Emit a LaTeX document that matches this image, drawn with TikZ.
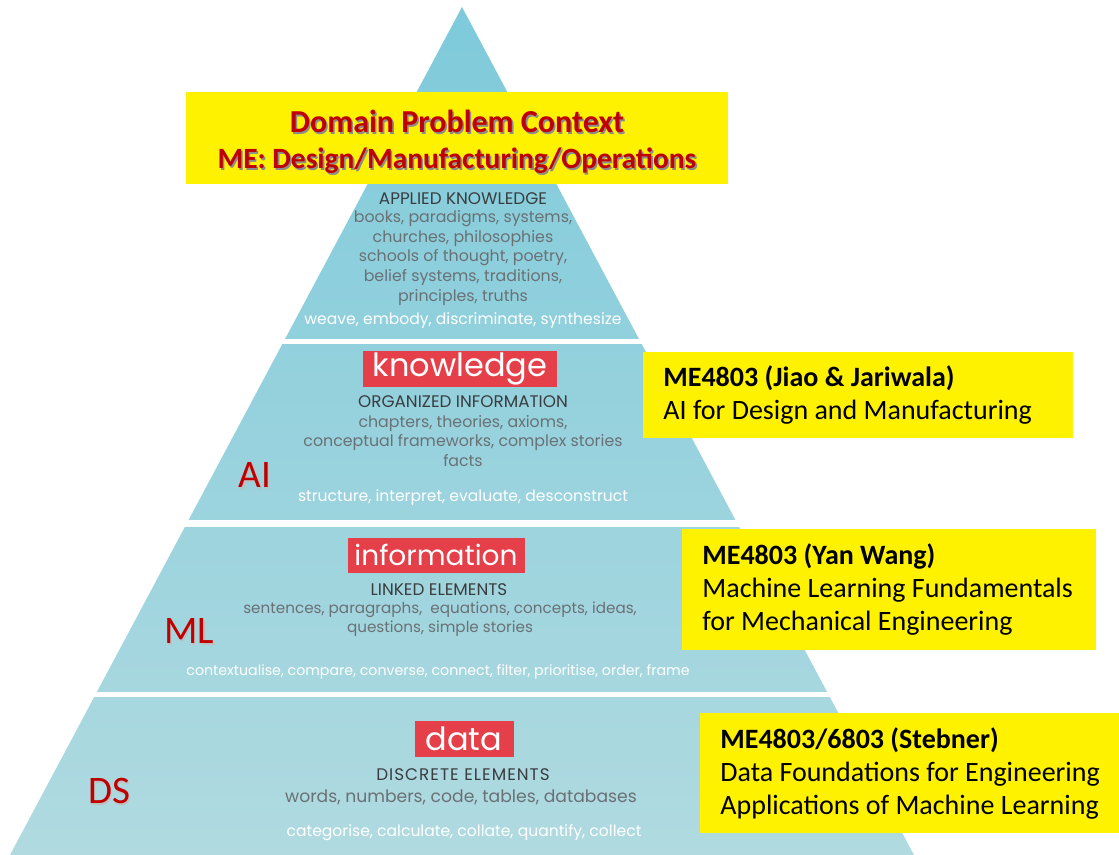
\documentclass[tikz,border=0pt]{standalone}
\usepackage{fontspec}
\setmainfont{Carlito}
\newfontfamily\geo{Poppins}

\definecolor{pyrtop}{HTML}{7ECADB}
\definecolor{pyrbot}{HTML}{B0DAE0}
\definecolor{tagred}{HTML}{E5404A}
\definecolor{dkred}{HTML}{C00000}
\definecolor{headgray}{HTML}{3A3D3F}
\definecolor{bodygray}{HTML}{6A7174}

% text with a soft drop shadow
\newcommand{\shadowed}[2][black!45]{\leavevmode\rlap{\kern0.8pt\raisebox{-0.8pt}{\color{#1}#2}}#2}

\begin{document}
\begin{tikzpicture}[x=0.5pt,y=-0.5pt,
    tag/.style={fill=tagred,text=white,font=\geo\fontsize{16}{16}\selectfont,inner sep=0pt},
    head/.style={text=headgray,font=\geo\fontsize{8.4}{9}\selectfont},
    body/.style={text=bodygray,align=center,font=\geo\fontsize{7.9}{9.9}\selectfont},
    verb/.style={text=white,font=\geo\fontsize{7.8}{9}\selectfont},
    level/.style={text=dkred,font=\fontsize{19.5}{20}\selectfont},
    course/.style={fill=yellow,anchor=north west,align=flush left,inner xsep=10pt,
      font=\fontsize{14}{16.5}\selectfont}]

\useasboundingbox (0,0) rectangle (1119,855);

% the pyramid, cut into four bands
\coordinate (apex) at (462,7);
\coordinate (bl) at (10,855);
\coordinate (br) at (914,855);
\shade[top color=pyrtop,bottom color=pyrbot] (apex) -- (br) -- (bl) -- cycle;
\foreach \ya/\yb in {339/344,520/527,692/697}
  \fill[white] (0,\ya) rectangle (1119,\yb);

% wisdom band
\node[head] (wishead) at (463,199) {APPLIED KNOWLEDGE};
\node[body] (wisbody) at (463,258) {books, paradigms, systems,\\churches, philosophies\\schools of thought, poetry,\\belief systems, traditions,\\principles, truths};
\node[verb] (wisverb) at (463,321) {weave, embody, discriminate, synthesize};

% knowledge band
\node[tag,minimum width=97pt,minimum height=18pt] (know) at (460,369) {knowledge};
\node[head] (knowhead) at (463,402) {ORGANIZED INFORMATION};
\node[body] (knowbody) at (463,441) {chapters, theories, axioms,\\conceptual frameworks, complex stories\\facts};
\node[verb] (knowverb) at (463,498) {structure, interpret, evaluate, desconstruct};

% information band
\node[tag,minimum width=88.5pt,minimum height=17.5pt,font=\geo\fontsize{14}{14}\selectfont] (info) at (436,555) {information};
\node[head] (infohead) at (439,590) {LINKED ELEMENTS};
\node[body,font=\geo\fontsize{7.6}{9.4}\selectfont] (infobody) at (440,619) {sentences, paragraphs,\ \ equations, concepts, ideas,\\questions, simple stories};
\node[verb,font=\geo\fontsize{7.1}{9}\selectfont] (infoverb) at (438,672) {contextualise, compare, converse, connect, filter, prioritise, order, frame};

% data band
\node[tag,minimum width=49.5pt,minimum height=18pt] (data) at (464,739) {data};
\node[head,font=\geo\fontsize{8.4}{9}\selectfont\addfontfeature{LetterSpace=6}] (datahead) at (463,775) {DISCRETE ELEMENTS};
\node[body,font=\geo\fontsize{8.6}{9.9}\selectfont] (databody) at (461,797) {words, numbers, code, tables, databases};
\node[verb] (dataverb) at (464,833) {categorise, calculate, collate, quantify, collect};

% levels on the left
\node[level] (ai) at (255,476) {\shadowed[black!25]{AI}};
\node[level] (ml) at (189,632) {\shadowed[black!25]{ML}};
\node[level] (ds) at (109,792) {\shadowed[black!25]{DS}};

% domain box over the top
\node[fill=yellow,minimum width=271pt,minimum height=46pt,align=flush center,text=dkred,
  font=\bfseries] (domain) at (457,138)
  {\fontsize{16}{18}\selectfont\rule{0pt}{16pt}\shadowed{Domain Problem Context}\\[6pt]
   \fontsize{14.7}{18}\selectfont\shadowed{ME: Design/Manufacturing/Operations}};

% courses
\node[course,text width=195pt,minimum height=43pt] (ai course) at (643,352)
  {\textbf{ME4803 (Jiao \& Jariwala)}\\AI for Design and Manufacturing};
\node[course,text width=187pt,minimum height=60.5pt] (ml course) at (682,529)
  {\textbf{ME4803 (Yan Wang)}\\Machine Learning Fundamentals\\for Mechanical Engineering};
\node[course,text width=200pt,minimum height=60pt] (ds course) at (700,713)
  {\textbf{ME4803/6803 (Stebner)}\\Data Foundations for Engineering\\Applications of Machine Learning};
\end{tikzpicture}
\end{document}
